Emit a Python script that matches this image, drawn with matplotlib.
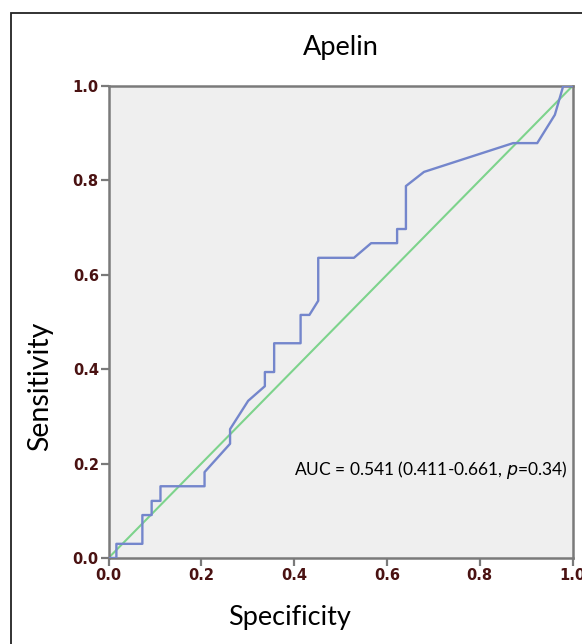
import matplotlib
matplotlib.use("Agg")
import matplotlib.pyplot as plt
from matplotlib.patches import Rectangle

# ROC curve points (1 - specificity on x, sensitivity on y)
spec = [0.0, 0.017, 0.017, 0.073, 0.073, 0.093, 0.093, 0.112, 0.112, 0.207,
        0.207, 0.262, 0.262, 0.301, 0.337, 0.337, 0.357, 0.357, 0.414, 0.414,
        0.433, 0.452, 0.452, 0.529, 0.566, 0.622, 0.622, 0.641, 0.641, 0.680,
        0.872, 0.924, 0.962, 0.980, 1.0]
sens = [0.0, 0.0, 0.030, 0.030, 0.091, 0.091, 0.121, 0.121, 0.152, 0.152,
        0.182, 0.242, 0.273, 0.333, 0.364, 0.394, 0.394, 0.455, 0.455, 0.515,
        0.515, 0.545, 0.636, 0.636, 0.667, 0.667, 0.697, 0.697, 0.788, 0.818,
        0.879, 0.879, 0.939, 1.0, 1.0]
ref_line = [0.0, 1.0]
ticks = [0.0, 0.2, 0.4, 0.6, 0.8, 1.0]
tick_labels = ["0.0", "0.2", "0.4", "0.6", "0.8", "1.0"]

font = ["Lato", "DejaVu Sans"]
tick_color = "#4a1212"
spine_color = "#7a7a7a"
W, H = 582, 644

fig = plt.figure(figsize=(W / 100, H / 100), dpi=100)

# outer frame of the original panel
fig.patches.append(Rectangle((11 / W, -0.05), 1.1, (H - 13) / H + 0.05,
                             transform=fig.transFigure, fill=False,
                             edgecolor="#222222", linewidth=1.3))

ax = fig.add_axes([108.5 / W, 86 / H, 464 / W, 472 / H])
ax.set_facecolor("#efefef")

ax.plot(ref_line, ref_line, color="#7dd38c", linewidth=1.5, zorder=2)
ax.plot(spec, sens, color="#7486cc", linewidth=1.7, zorder=3)

ax.set_xlim(0, 1)
ax.set_ylim(0, 1)
ax.set_xticks(ticks)
ax.set_yticks(ticks)
ax.set_xticklabels(tick_labels)
ax.set_yticklabels(tick_labels)
for lab in ax.get_xticklabels() + ax.get_yticklabels():
    lab.set_fontweight("bold")
    lab.set_fontsize(10.5)
    lab.set_color(tick_color)
    lab.set_family("DejaVu Sans")
ax.tick_params(direction="out", length=6, width=1.6, color=spine_color, pad=1)

for s in ax.spines.values():
    s.set_color(spine_color)
    s.set_linewidth(1.8)

ax.set_title("Apelin", fontsize=19.5, family=font, pad=22)

# axis titles sit off-centre in the original
fig.text(290 / W, 1 - 617 / H, "Specificity", fontsize=19.5, family=font,
         ha="center", va="center")
fig.text(40 / W, 1 - 386 / H, "Sensitivity", fontsize=20.5, family=font,
         ha="center", va="center", rotation=90)

ax.text(0.40, 0.186, "AUC = 0.541 (0.411-0.661, $\\it{p}$=0.34)", fontsize=12.5,
        family=font, va="center", ha="left")

fig.savefig("out.png", dpi=100)
